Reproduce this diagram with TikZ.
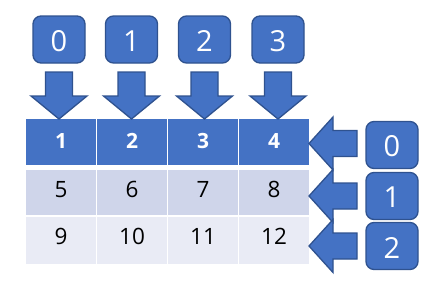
\documentclass[tikz,border=0pt]{standalone}
\usepackage{fontspec}
\setmainfont{Open Sans}
\definecolor{mblue}{HTML}{4472C4}
\definecolor{mborder}{HTML}{2F528F}
\definecolor{rowa}{HTML}{CFD5EA}
\definecolor{rowb}{HTML}{E9EBF5}
\begin{document}
\begin{tikzpicture}[x=1pt,y=-1pt,
  idxbox/.style={draw=mborder,line width=1.3pt,fill=mblue,rounded corners=8pt,
    minimum width=52pt,minimum height=47pt,inner sep=0pt},
  idxtext/.style={text=white,font=\fontsize{29}{31}\selectfont,inner sep=0pt},
  blockarrow/.style={draw=mborder,line width=1.3pt,fill=mblue,line join=miter},
  hcell/.style={fill=mblue,minimum width=69.5pt,minimum height=46pt,inner sep=0pt},
  acell/.style={fill=rowa,minimum width=69.5pt,minimum height=45pt,inner sep=0pt},
  bcell/.style={fill=rowb,minimum width=69.5pt,minimum height=47pt,inner sep=0pt},
  htext/.style={text=white,font=\bfseries\fontsize{21}{23}\selectfont,inner sep=0pt},
  btext/.style={text=black,font=\fontsize{22.5}{25}\selectfont,inner sep=0pt}]
\useasboundingbox (0,0) rectangle (440,297);
% table cells
\foreach \i/\cx in {1/61,2/132,3/203,4/274} {
  \node[hcell] (h\i) at (\cx,142) {};
}
\foreach \i/\cx/\v in {1/61/5,2/132/6,3/203/7,4/274/8} {
  \node[acell] (a\i) at (\cx,192.5) {};
  \node[btext] (av\i) at (\cx,189.5) {\v};
}
\foreach \i/\cx/\v in {1/61/9,2/132/10,3/203/11,4/274/12} {
  \node[bcell] (b\i) at (\cx,240.5) {};
  \node[btext] (bv\i) at (\cx,236.5) {\v};
}
\foreach \i/\cx in {1/61,2/132,3/203,4/274} {
  \node[htext] (ht\i) at (\cx,141) {\i};
}
% top index boxes and down arrows
\foreach \i/\cx in {0/59,1/131.5,2/204.5,3/278} {
  \node[idxbox] (t\i) at (\cx,39.5) {};
  \node[idxtext] (tt\i) at (\cx,41) {\i};
  \draw[blockarrow] (\cx-13.5,72) -- (\cx+13.5,72) -- (\cx+13.5,96) -- (\cx+28,96)
     -- (\cx,119) -- (\cx-28,96) -- (\cx-13.5,96) -- cycle;
}
% right index boxes and left arrows
\foreach \i/\cy/\ty in {0/145/143.5,1/196/196,2/246/246} {
  \node[idxbox] (r\i) at (392,\cy) {};
  \node[idxtext] (rt\i) at (392,\cy+1.5) {\i};
  \draw[blockarrow] (309,\ty) -- (333,\ty-26.5) -- (333,\ty-13) -- (357,\ty-13)
     -- (357,\ty+13) -- (333,\ty+13) -- (333,\ty+26.5) -- cycle;
}
\end{tikzpicture}
\end{document}
